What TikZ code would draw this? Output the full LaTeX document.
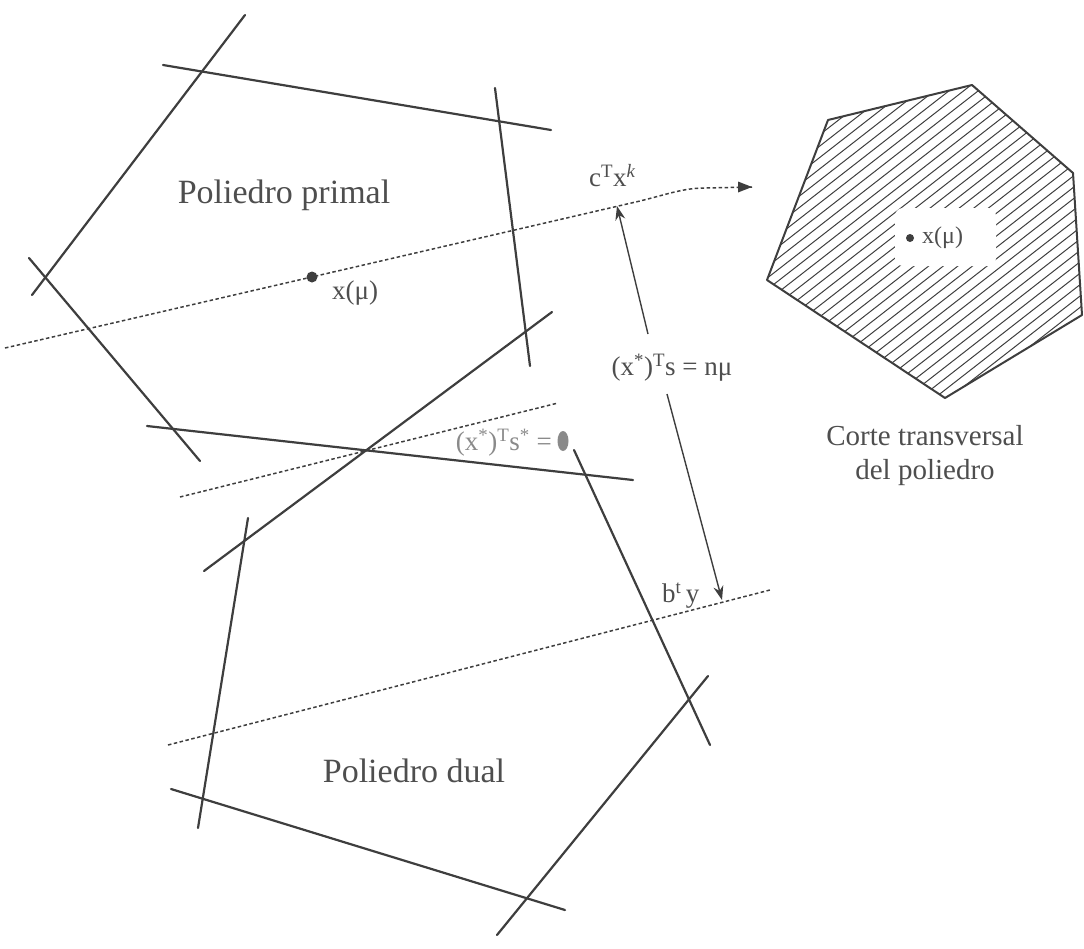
\documentclass[tikz,border=0pt]{standalone}
\usepackage{fontspec}
\setmainfont{Liberation Serif}
\usetikzlibrary{arrows.meta,shapes.geometric}
\definecolor{ink}{HTML}{3E3E3E}
\definecolor{txt}{HTML}{4E4E4E}
\definecolor{faint}{HTML}{8A8A8A}

\begin{document}
\begin{tikzpicture}[x=1pt,y=-1pt,
  edge/.style={ink,line width=2.2pt,line cap=round},
  cpath/.style={ink,line width=1.5pt,dash pattern=on 3.5pt off 2.5pt},
  tip/.style={ink,line width=1.4pt,-{Stealth[length=14pt,width=10pt]}},
  lbl/.style={txt,font=\fontsize{27}{30}\selectfont,inner sep=0pt},
  big/.style={txt,font=\fontsize{34}{40}\selectfont,inner sep=0pt},
  hatch/.style={ink,line width=1pt},
]
\useasboundingbox (0,0) rectangle (1084,948);

% --- primal polyhedron: supporting lines
\draw[edge] (245,15) -- (32,295);
\draw[edge] (163,65) -- (551,130);
\draw[edge] (495,88) -- (530,366);
\draw[edge] (29,258) -- (200,461);
\draw[edge] (147,426) -- (633,480);
\draw[edge] (204,571) -- (552,312);

% --- dual polyhedron: remaining lines
\draw[edge] (248,518) -- (198,828);
\draw[edge] (171,789) -- (565,910);
\draw[edge] (708,676) -- (497,935);
\draw[edge] (574,450) -- (710,745);

% --- central path (primal), with its direction arrow
\coordinate (pA) at (5,348);
\coordinate (pB) at (752,187);
\draw[cpath] (pA) -- (640,201) .. controls (668,194) and (684,188) .. (705,188) -- (pB);
\fill[ink] (pB) -- ++(-14,-5.5) -- ++(0,11) -- cycle;
\node[circle,fill=ink,inner sep=0pt,minimum size=11pt] (xmu) at (312,277) {};
\node[lbl,anchor=west] (xmulbl) at (332,293) {x(μ)};
\node[lbl,anchor=west] (ctx) at (589,176) {c\textsuperscript{T}x\textsuperscript{\itshape k}};

% --- optimal point path
\coordinate (oA) at (180,497);
\coordinate (oB) at (558,403);
\draw[cpath] (oA) -- (oB);
\node[lbl,faint,anchor=east] (sstar) at (552,443) {(x\textsuperscript{*})\textsuperscript{T}s\textsuperscript{*} =};
\node[ellipse,fill=faint,inner sep=0pt,minimum width=11pt,minimum height=20pt] (sdot) at (563,441) {};

% --- dual path
\coordinate (dA) at (168,745);
\coordinate (dB) at (770,590);
\draw[cpath] (dA) -- (dB);
\node[lbl,anchor=west] (bty) at (662,596) {b\textsuperscript{t}\,y};

% --- duality gap
\node[lbl] (gap) at (672,368) {(x\textsuperscript{*})\textsuperscript{T}s = nμ};
\coordinate (upA) at (648,334);
\coordinate (upB) at (617,206);
\coordinate (dnA) at (667,394);
\coordinate (dnB) at (722,600);
\draw[tip] (upA) -- (upB);
\draw[tip] (dnA) -- (dnB);

% --- region labels
\node[big] (primal) at (284,195) {Poliedro primal};
\node[big] (dual) at (414,771) {Poliedro dual};

% --- cross-section of the polyhedron
\def\hexpts{(828,120) -- (972,85) -- (1073,173) -- (1082,315) -- (945,398) -- (767,280) -- cycle}
\begin{scope}
  \clip \hexpts;
  \foreach \i in {0,...,44} {
    \draw[hatch] (410+\i*14.6,420) -- ++(540,-421);
  }
  \fill[white,rounded corners=8pt] (895,208) rectangle (996,266);
\end{scope}
\draw[ink,line width=2pt,line join=round] \hexpts;
\node[circle,fill=ink,inner sep=0pt,minimum size=8pt] (xmuc) at (910,238) {};
\node[lbl,anchor=west,font=\fontsize{24}{28}\selectfont] (xmuclbl) at (922,238) {x(μ)};

\node[txt,font=\fontsize{29}{34}\selectfont,align=center,inner sep=0pt] (corte) at (925,456) {Corte transversal\\del poliedro};
\end{tikzpicture}
\end{document}
